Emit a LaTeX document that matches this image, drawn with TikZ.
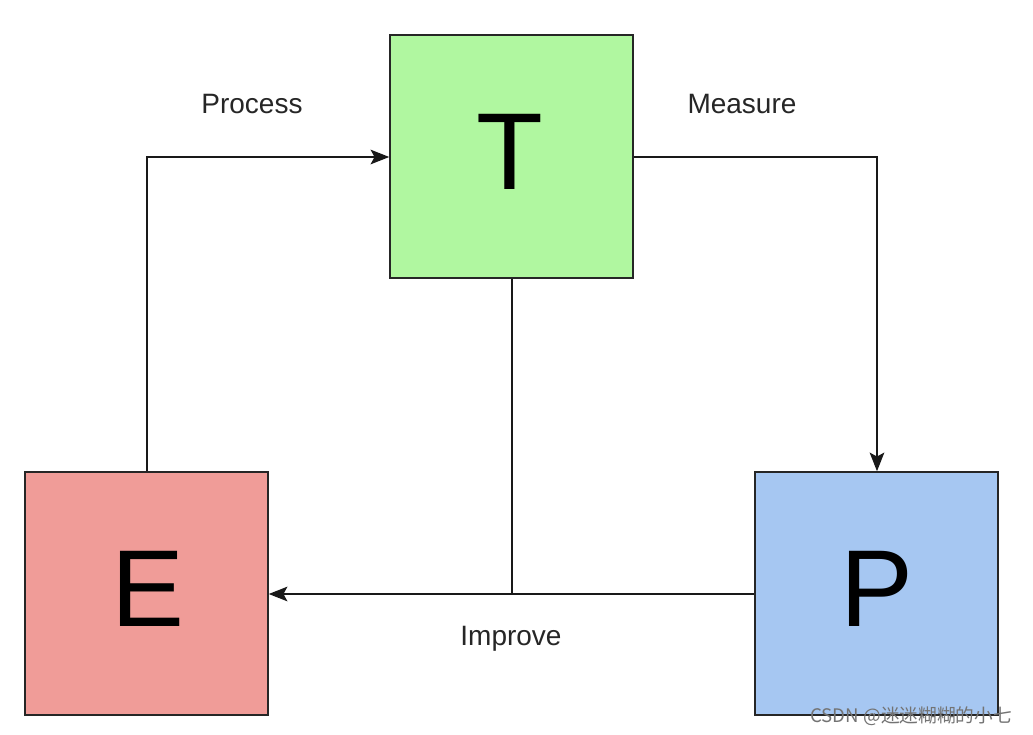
\documentclass[tikz,border=0pt]{standalone}
\usepackage{fontspec}
\setmainfont{Liberation Sans}
\newfontfamily\cjkfont{Noto Sans CJK SC}
\usetikzlibrary{arrows.meta}
\definecolor{tgreen}{HTML}{B0F7A0}
\definecolor{ered}{HTML}{F09C98}
\definecolor{pblue}{HTML}{A6C7F2}
\begin{document}
\begin{tikzpicture}[x=0.75pt,y=-0.75pt,
  box/.style={draw=black!85,line width=1.4pt,minimum width=182pt,minimum height=182pt,inner sep=0pt},
  big/.style={font=\fontsize{82}{90}\selectfont,inner sep=0pt,anchor=center},
  conn/.style={line width=1.1pt,draw=black!90},
  arr/.style={conn,-{Stealth[length=14pt,width=11pt,inset=3pt]}},
  lbl/.style={font=\fontsize{21}{24}\selectfont,text=black!85}]
\useasboundingbox (0,0) rectangle (1033,735);
\fill[white] (0,0) rectangle (1033,735);
\node[box,fill=tgreen] (T) at (511.5,156.5) {};
\node[box,fill=ered] (E) at (146.5,593.5) {};
\node[box,fill=pblue] (P) at (876.5,593.5) {};
\node[big] (Tl) at (510,152) {T};
\node[big] (El) at (148,589) {E};
\node[big] (Pl) at (877,589) {P};
\coordinate (c1) at (147,157);
\coordinate (c2) at (877,157);
\coordinate (c3) at (512,594);
\draw[arr] (E.north -| c1) -- (c1) -- (T.west |- c1);
\draw[arr] (T.east |- c2) -- (c2) -- (P.north -| c2);
\draw[arr] (P.west |- c3) -- (E.east |- c3);
\draw[conn] (T.south -| c3) -- (c3);
\node[lbl] (proc) at (252,104) {Process};
\node[lbl] (meas) at (742,104) {Measure};
\node[lbl] (impr) at (511,639) {Improve};
\node[text=black!55,font=\cjkfont\fontsize{14}{16}\selectfont,inner sep=0pt] (wm) at (911,716) {CSDN @迷迷糊糊的小七};
\end{tikzpicture}
\end{document}
